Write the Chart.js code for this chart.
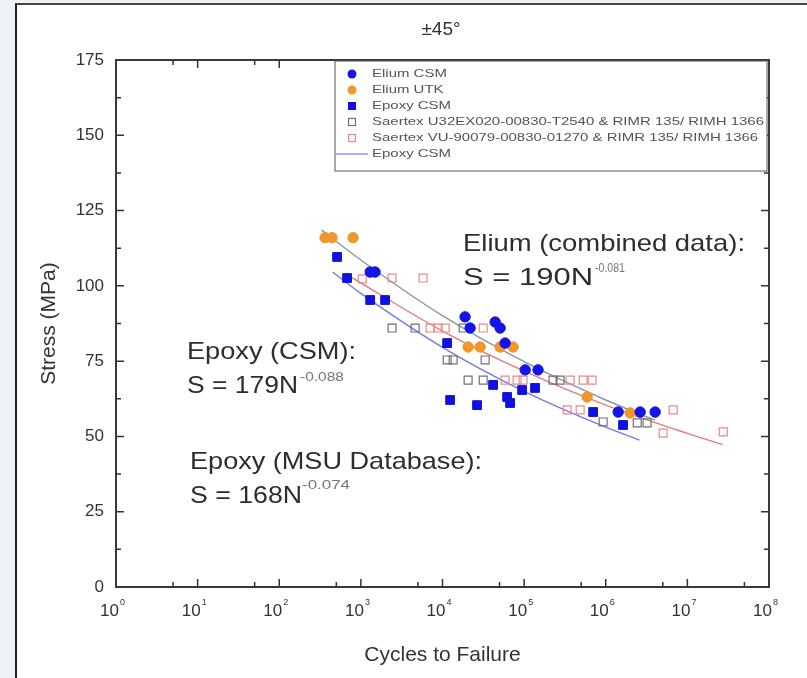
<!DOCTYPE html>
<html>
<head>
<meta charset="utf-8">
<script src="https://cdn.jsdelivr.net/npm/chart.js@4.4.1/dist/chart.umd.min.js"></script>
<style>
  html, body { margin: 0; padding: 0; background: #eef2f5; }
  #frame { position: absolute; left: 15px; top: 3px; width: 790px; height: 690px; background: #fff;
           border-left: 2px solid #222; border-top: 2px solid #444; }
  #wrap { position: absolute; left: 0; top: 0; width: 807px; height: 678px; }
</style>
</head>
<body>
<div id="frame"></div>
<div id="wrap"><canvas id="snChart" width="807" height="678"></canvas></div>
<script>
// S-N data, +/-45 deg laminates
const eliumCsmN = [1300, 1490, 18900, 21800, 44200, 50800, 58500, 103000, 148000, 1420000, 2640000, 4030000];
const eliumCsmS = [104.6, 104.6, 89.7, 86.0, 88.0, 86.0, 81.0, 72.1, 72.1, 58.1, 58.1, 58.1];

const eliumUtkN = [364, 444, 802, 20600, 28900, 50800, 73300, 592000, 1990000];
const eliumUtkS = [116, 116, 116, 79.7, 79.7, 79.7, 79.7, 63.1, 57.8];

const epoxyCsmN = [511, 678, 1300, 1980, 11400, 12400, 26500, 41700, 61900, 67300, 94500, 136000, 701000, 1630000];
const epoxyCsmS = [109.6, 102.6, 95.3, 95.3, 81.0, 62.1, 60.4, 67.1, 63.1, 61.1, 65.4, 66.1, 58.1, 53.8];

const saertexU32N = [2410, 4620, 17900, 11400, 13500, 33300, 20600, 31500, 226000, 276000, 929000, 2430000, 3210000];
const saertexU32S = [86, 86, 86, 75.4, 75.4, 75.4, 68.7, 68.7, 68.7, 68.7, 54.8, 54.5, 54.5];

const saertexVuN = [1040, 2410, 5780, 7050, 8830, 10800, 31500, 58500, 82000, 97200, 366000, 529000, 681000, 337000, 486000, 6700000, 5050000, 27500000];
const saertexVuS = [102.3, 102.6, 102.6, 86, 86, 86, 86, 68.7, 68.7, 68.7, 68.7, 68.7, 68.7, 58.8, 58.8, 58.8, 51.1, 51.5];

// fit curves, sampled from the drawn lines
const eliumFitN = [330, 1000, 10000, 100000, 1000000, 4000000];
const eliumFitS = [118.5, 108.6, 90.1, 74.8, 62.1, 55.4];
const epoxyFitN = [450, 1000, 10000, 100000, 1000000, 2600000];
const epoxyFitS = [104.6, 97.5, 79.6, 65.0, 53.1, 48.8];
const msuFitN = [750, 10000, 100000, 1000000, 10000000, 27000000];
const msuFitS = [103, 85.0, 71.7, 60.4, 51.0, 47.3];

const xTickExps = [0, 1, 2, 3, 4, 5, 6, 7, 8];
const yTickValues = [0, 25, 50, 75, 100, 125, 150, 175];

function pts(ns, ss) {
    return ns.map((n, i) => ({ x: n, y: ss[i] }));
}

const fontFam = '"Liberation Sans", Arial, sans-serif';

// draws text, stretched horizontally to a given width
function fitText(ctx, txt, x, y, w) {
    const m = ctx.measureText(txt).width;
    ctx.save();
    ctx.translate(x, y);
    ctx.scale(w / m, 1);
    ctx.fillText(txt, 0, 0);
    ctx.restore();
}

const decorPlugin = {
    id: 'decor',
    afterDraw(chart) {
        const ctx = chart.ctx;
        const a = chart.chartArea;
        const xs = chart.scales.x, ys = chart.scales.y;
        ctx.save();

        // ticks pointing inwards on all four sides
        ctx.strokeStyle = '#333';
        ctx.lineWidth = 1.5;
        ctx.beginPath();
        yTickValues.forEach((v, i) => {
            const y = ys.getPixelForValue(v);
            ctx.moveTo(a.left, y); ctx.lineTo(a.left + 8, y);
            ctx.moveTo(a.right, y); ctx.lineTo(a.right - 8, y);
            if (i < yTickValues.length - 1) {
                const ym = ys.getPixelForValue(v + 12.5);
                ctx.moveTo(a.left, ym); ctx.lineTo(a.left + 5, ym);
                ctx.moveTo(a.right, ym); ctx.lineTo(a.right - 5, ym);
            }
        });
        xTickExps.forEach((e, i) => {
            const x = xs.getPixelForValue(Math.pow(10, e));
            ctx.moveTo(x, a.bottom); ctx.lineTo(x, a.bottom - 8);
            ctx.moveTo(x, a.top); ctx.lineTo(x, a.top + 8);
            if (i < xTickExps.length - 1) {
                const xm = xs.getPixelForValue(5 * Math.pow(10, e));
                ctx.moveTo(xm, a.bottom); ctx.lineTo(xm, a.bottom - 5);
                ctx.moveTo(xm, a.top); ctx.lineTo(xm, a.top + 5);
            }
        });
        ctx.stroke();

        // plot frame
        ctx.lineWidth = 2;
        ctx.strokeStyle = '#3a3a3a';
        ctx.strokeRect(a.left, a.top, a.right - a.left, a.bottom - a.top);

        // x tick labels 10^n
        ctx.fillStyle = '#333';
        ctx.textBaseline = 'alphabetic';
        xTickExps.forEach(e => {
            const x = xs.getPixelForValue(Math.pow(10, e));
            ctx.font = '17px ' + fontFam;
            ctx.textAlign = 'right';
            ctx.fillText('10', x + 3, a.bottom + 29);
            ctx.font = '9px ' + fontFam;
            ctx.textAlign = 'left';
            ctx.fillText(String(e), x + 4, a.bottom + 18);
        });

        // titles
        ctx.textAlign = 'center';
        ctx.font = '21px ' + fontFam;
        ctx.fillText('Cycles to Failure', (a.left + a.right) / 2, 661);
        ctx.font = '19px ' + fontFam;
        ctx.fillText('\u00b145\u00b0', 441, 35);
        ctx.save();
        ctx.translate(55, (a.top + a.bottom) / 2);
        ctx.rotate(-Math.PI / 2);
        ctx.font = '21px ' + fontFam;
        ctx.fillText('Stress (MPa)', 0, 0);
        ctx.restore();

        // fit equations
        ctx.textAlign = 'left';
        ctx.fillStyle = '#2e2e2e';
        ctx.font = '24px ' + fontFam;
        fitText(ctx, 'Elium (combined data):', 463, 251, 282);
        fitText(ctx, 'S = 190N', 463, 285, 130);
        fitText(ctx, 'Epoxy (CSM):', 187, 359, 169);
        fitText(ctx, 'S = 179N', 187, 393, 111);
        fitText(ctx, 'Epoxy (MSU Database):', 190, 469, 292);
        fitText(ctx, 'S = 168N', 190, 503, 112);
        ctx.fillStyle = '#777';
        ctx.font = '12px ' + fontFam;
        fitText(ctx, '-0.081', 595, 272, 30);
        fitText(ctx, '-0.088', 300, 381, 44);
        fitText(ctx, '-0.074', 302, 489, 48);

        // legend box in the top right corner of the plot
        const lx = 335, ly = a.top + 1, lw = a.right - 2 - lx, lh = 110;
        ctx.fillStyle = '#fff';
        ctx.fillRect(lx, ly, lw, lh);
        ctx.strokeStyle = '#555';
        ctx.lineWidth = 1;
        ctx.strokeRect(lx, ly, lw, lh);
        const items = chart.data.datasets.filter(ds => ds.inLegend !== false);
        ctx.font = '11.5px ' + fontFam;
        const longest = Math.max(...items.map(ds => ctx.measureText(ds.label).width));
        const stretch = (lx + lw - 3 - 372) / longest;
        items.forEach((ds, row) => {
            const cy = a.top + 14 + row * 16;
            const cx = 352;
            ctx.lineWidth = 1.2;
            if (ds.showLine) {
                ctx.strokeStyle = ds.borderColor;
                ctx.beginPath();
                ctx.moveTo(336, cy); ctx.lineTo(368, cy);
                ctx.stroke();
            } else if (ds.pointStyle === 'circle') {
                ctx.fillStyle = ds.pointBackgroundColor;
                ctx.beginPath();
                ctx.arc(cx, cy, 4.5, 0, Math.PI * 2);
                ctx.fill();
            } else if (ds.pointBackgroundColor !== 'transparent') {
                ctx.fillStyle = ds.pointBackgroundColor;
                ctx.fillRect(cx - 4, cy - 4, 8, 8);
            } else {
                ctx.strokeStyle = ds.pointBorderColor;
                ctx.strokeRect(cx - 3.5, cy - 3.5, 7, 7);
            }
            ctx.fillStyle = '#555';
            ctx.textBaseline = 'middle';
            const w = ctx.measureText(ds.label).width;
            fitText(ctx, ds.label, 372, cy, w * stretch);
            ctx.textBaseline = 'alphabetic';
        });
        ctx.restore();
    }
};

const ctx = document.getElementById('snChart');
new Chart(ctx, {
    type: 'scatter',
    data: {
        datasets: [
            {
                label: 'Elium CSM', data: pts(eliumCsmN, eliumCsmS),
                pointStyle: 'circle', pointRadius: 5.2, pointBackgroundColor: '#1414e6', pointBorderColor: '#1414e6'
            },
            {
                label: 'Elium UTK', data: pts(eliumUtkN, eliumUtkS),
                pointStyle: 'circle', pointRadius: 5.2, pointBackgroundColor: '#f2952a', pointBorderColor: '#f2952a'
            },
            {
                label: 'Epoxy CSM', data: pts(epoxyCsmN, epoxyCsmS),
                pointStyle: 'rect', pointRadius: 6.2, pointBackgroundColor: '#1010e0', pointBorderColor: '#1010e0'
            },
            {
                label: 'Saertex U32EX020-00830-T2540 & RIMR 135/ RIMH 1366', data: pts(saertexU32N, saertexU32S),
                pointStyle: 'rect', pointRadius: 5.6, pointBorderWidth: 1.2,
                pointBackgroundColor: 'transparent', pointBorderColor: '#707070'
            },
            {
                label: 'Saertex VU-90079-00830-01270 & RIMR 135/ RIMH 1366', data: pts(saertexVuN, saertexVuS),
                pointStyle: 'rect', pointRadius: 5.6, pointBorderWidth: 1.2,
                pointBackgroundColor: 'transparent', pointBorderColor: '#e98a8a'
            },
            {
                label: 'Epoxy CSM', data: pts(epoxyFitN, epoxyFitS), showLine: true,
                borderColor: '#7878ee', borderWidth: 1.4, pointRadius: 0, cubicInterpolationMode: 'monotone'
            },
            {
                label: 'Elium fit', inLegend: false, data: pts(eliumFitN, eliumFitS), showLine: true,
                borderColor: '#8a97a6', borderWidth: 1.4, pointRadius: 0, cubicInterpolationMode: 'monotone'
            },
            {
                label: 'MSU fit', inLegend: false, data: pts(msuFitN, msuFitS), showLine: true,
                borderColor: '#e27b7b', borderWidth: 1.4, pointRadius: 0, cubicInterpolationMode: 'monotone'
            }
        ]
    },
    options: {
        responsive: false,
        animation: false,
        layout: { padding: { left: 0, right: 38, top: 60, bottom: 0 } },
        plugins: {
            legend: { display: false },
            tooltip: { enabled: false }
        },
        scales: {
            x: {
                type: 'logarithmic',
                min: 1,
                max: 1e8,
                grid: { display: false },
                border: { display: false },
                ticks: { display: false },
                afterFit: function(scale) { scale.height = 91; }
            },
            y: {
                min: 0,
                max: 175,
                grid: { display: false, drawTicks: false },
                border: { display: false },
                afterBuildTicks: function(scale) {
                    scale.ticks = yTickValues.map(v => ({ value: v }));
                },
                ticks: {
                    padding: 12,
                    color: '#333',
                    font: { size: 17, family: fontFam }
                },
                afterFit: function(scale) { scale.width = 116; }
            }
        }
    },
    plugins: [decorPlugin]
});
</script>
</body>
</html>
